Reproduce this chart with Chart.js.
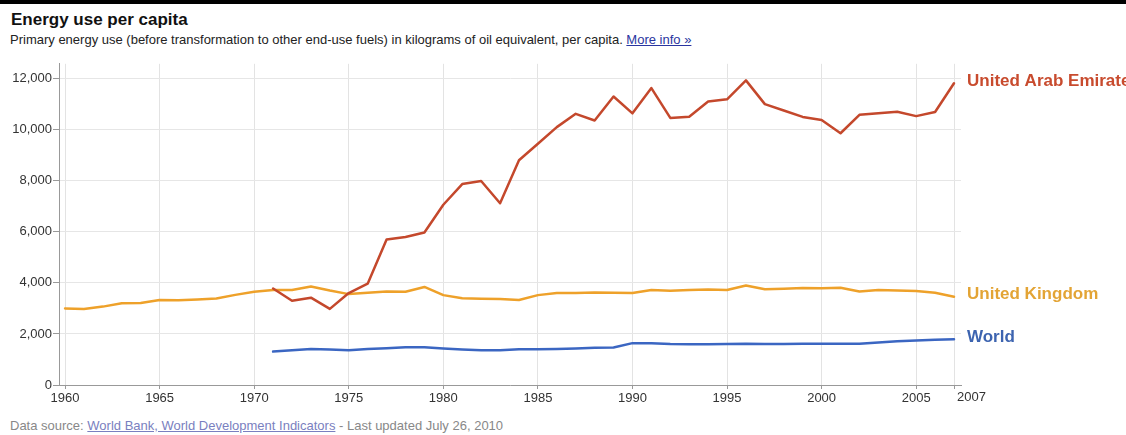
<!DOCTYPE html>
<html>
<head>
<meta charset="utf-8">
<script src="https://cdn.jsdelivr.net/npm/chart.js@4"></script>
<style>
  html, body { margin: 0; padding: 0; background: #fff; }
  body { width: 1126px; height: 435px; position: relative; overflow: hidden; font-family: Arial, "Liberation Sans", sans-serif; }
  #topbar { position: absolute; left: 0; top: 0; width: 1126px; height: 4px; background: #000; }
  #title { position: absolute; left: 11px; top: 10px; font-size: 17px; font-weight: bold; color: #111; white-space: nowrap; }
  #subtitle { position: absolute; left: 10px; top: 32px; font-size: 13px; color: #222; white-space: nowrap; }
  #subtitle a { color: #2a35a0; text-decoration: underline; }
  #footer { position: absolute; left: 10px; top: 418px; font-size: 13px; color: #888; white-space: nowrap; }
  #footer a { color: #7a7fc0; text-decoration: underline; }
  #wrap { position: absolute; left: 0; top: 55px; width: 1126px; height: 355px; }
</style>
</head>
<body>
<div id="topbar"></div>
<div id="title">Energy use per capita</div>
<div id="subtitle">Primary energy use (before transformation to other end-use fuels) in kilograms of oil equivalent, per capita. <a>More info »</a></div>
<div id="wrap"><canvas id="c" width="1126" height="355"></canvas></div>
<div id="footer">Data source: <a>World Bank, World Development Indicators</a> - Last updated July 26, 2010</div>
<script>
const years = [1960,1961,1962,1963,1964,1965,1966,1967,1968,1969,
               1970,1971,1972,1973,1974,1975,1976,1977,1978,1979,
               1980,1981,1982,1983,1984,1985,1986,1987,1988,1989,
               1990,1991,1992,1993,1994,1995,1996,1997,1998,1999,
               2000,2001,2002,2003,2004,2005,2006,2007];

const seriesNames = ["United Arab Emirates", "United Kingdom", "World"];

const uae = [null,null,null,null,null,null,null,null,null,null,
             null,3780,3300,3420,2980,3600,3970,5700,5800,5970,
             7060,7870,7990,7120,8800,9450,10100,10620,10360,11300,
             10640,11630,10460,10510,11100,11190,11930,11000,10750,10500,
             10380,9860,10580,10640,10700,10530,10690,11820];

const uk = [3000,2980,3070,3200,3210,3330,3320,3350,3390,3530,
            3650,3720,3720,3860,3700,3560,3610,3660,3650,3840,
            3520,3400,3380,3370,3330,3520,3600,3600,3620,3610,
            3600,3720,3690,3720,3740,3720,3900,3750,3770,3800,
            3790,3810,3660,3720,3700,3680,3610,3460];

const world = [null,null,null,null,null,null,null,null,null,null,
               null,1310,1360,1410,1390,1360,1410,1440,1480,1480,
               1430,1390,1360,1360,1400,1400,1410,1430,1460,1470,
               1640,1640,1610,1600,1600,1610,1620,1610,1610,1620,
               1620,1620,1620,1660,1710,1740,1770,1790];

const xTicks = [1960,1965,1970,1975,1980,1985,1990,1995,2000,2005,2007];
const yTicks = [0,2000,4000,6000,8000,10000,12000];

const lineColors = ["#c4482c", "#eea12a", "#3b66c2"];
const labelColors = ["#c84b2e", "#e3a435", "#3d64b0"];

function pts(arr) { return years.map((yr, i) => ({ x: yr, y: arr[i] })); }

const endLabels = {
  id: 'endLabels',
  afterDatasetsDraw(chart) {
    const ctx = chart.ctx;
    const area = chart.chartArea;
    ctx.save();
    ctx.font = 'bold 17px Arial, "Liberation Sans", sans-serif';
    ctx.textBaseline = 'middle';
    ctx.textAlign = 'left';
    chart.data.datasets.forEach((ds, i) => {
      const meta = chart.getDatasetMeta(i);
      const last = meta.data[meta.data.length - 1];
      ctx.fillStyle = labelColors[i];
      ctx.fillText(ds.label, area.right + 6, last.y - 2);
    });
    // last x label (2007) drawn to the right of its tick
    const xs = chart.scales.x;
    ctx.font = '13px Arial, "Liberation Sans", sans-serif';
    ctx.fillStyle = '#333';
    ctx.textBaseline = 'top';
    ctx.fillText('2007', xs.getPixelForValue(2007) + 3, area.bottom + 6);
    ctx.restore();
  }
};

new Chart(document.getElementById('c'), {
  type: 'line',
  data: {
    datasets: [
      { label: seriesNames[0], data: pts(uae), borderColor: lineColors[0] },
      { label: seriesNames[1], data: pts(uk), borderColor: lineColors[1] },
      { label: seriesNames[2], data: pts(world), borderColor: lineColors[2] }
    ]
  },
  options: {
    responsive: false,
    animation: false,
    devicePixelRatio: 1,
    layout: { padding: { left: 0, right: 165, top: 6, bottom: 0 } },
    elements: {
      line: { borderWidth: 2.5, tension: 0, borderJoinStyle: 'round', borderCapStyle: 'round' },
      point: { radius: 0, hoverRadius: 0 }
    },
    plugins: { legend: { display: false }, tooltip: { enabled: false } },
    scales: {
      x: {
        type: 'linear',
        min: 1959.68,
        max: 2007.37,
        afterBuildTicks: (s) => { s.ticks = xTicks.map(v => ({ value: v })); },
        afterFit: (s) => { s.height = 25; },
        ticks: {
          autoSkip: false,
          maxRotation: 0,
          padding: 2,
          color: '#333',
          font: { family: 'Arial, "Liberation Sans", sans-serif', size: 13 },
          callback: (v) => (v === 2007 ? '' : String(v))
        },
        grid: { color: '#e3e3e3', lineWidth: 1, tickLength: 4, tickColor: '#999' },
        border: { color: '#999', width: 1 }
      },
      y: {
        type: 'linear',
        min: 0,
        max: 12580,
        afterBuildTicks: (s) => { s.ticks = yTicks.map(v => ({ value: v })); },
        afterFit: (s) => { s.width = 59; },
        ticks: {
          padding: 1,
          color: '#333',
          font: { family: 'Arial, "Liberation Sans", sans-serif', size: 13 },
          callback: (v) => v.toLocaleString('en-US')
        },
        grid: { color: '#e6e6e6', lineWidth: 1, tickLength: 6, tickColor: '#999' },
        border: { color: '#999', width: 1 }
      }
    }
  },
  plugins: [endLabels]
});
</script>
</body>
</html>
